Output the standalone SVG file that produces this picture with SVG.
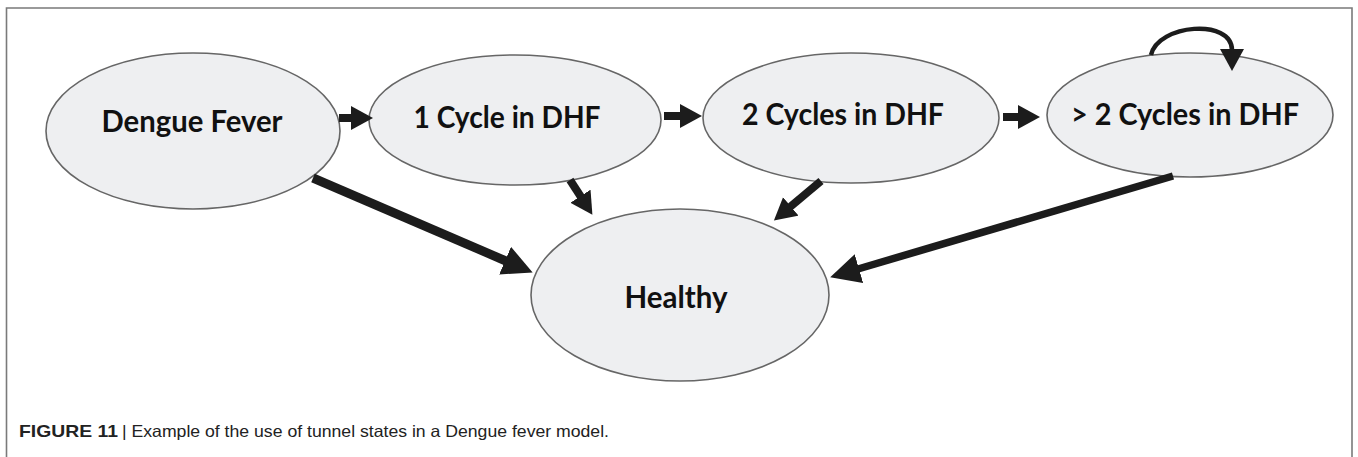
<svg xmlns="http://www.w3.org/2000/svg" width="1358" height="457" viewBox="0 0 1358 457">
<style>
.node ellipse{fill:#eeeff1;stroke:#666;stroke-width:1.6}
.lbl{font-family:Lato,"Open Sans","Liberation Sans",sans-serif;font-weight:700;font-size:30px;fill:#111;text-anchor:middle}
.edge{stroke:#1c1c1c;fill:none}
.cap{font-family:"Liberation Sans",Arial,sans-serif;font-size:16.5px;fill:#222}
</style>
<defs>
<marker id="hBig" markerUnits="userSpaceOnUse" markerWidth="32" markerHeight="32" refX="1" refY="15" orient="auto">
<path d="M0,0 L30,15 L0,30 Z" fill="#1c1c1c"/>
</marker>
<marker id="hSmall" markerUnits="userSpaceOnUse" markerWidth="26" markerHeight="26" refX="1" refY="12" orient="auto">
<path d="M0,0 L22,12 L0,24 Z" fill="#1c1c1c"/>
</marker>
</defs>
<rect x="0" y="0" width="1358" height="457" fill="#fff"/>
<path d="M6.5,460 L6.5,8 L1352,8 L1352,460" fill="none" stroke="#7a7a7a" stroke-width="1.6"/>

<g id="node-dengue" class="node">
<ellipse cx="193" cy="131" rx="147" ry="78"/>
<text class="lbl" x="192" y="132" textLength="181" lengthAdjust="spacingAndGlyphs">Dengue Fever</text>
</g>
<g id="node-1cycle" class="node">
<ellipse cx="515" cy="120" rx="146" ry="65"/>
<text class="lbl" x="507" y="128" textLength="187" lengthAdjust="spacingAndGlyphs">1 Cycle in DHF</text>
</g>
<g id="node-2cycles" class="node">
<ellipse cx="851" cy="118" rx="148" ry="65"/>
<text class="lbl" x="843" y="125" textLength="202" lengthAdjust="spacingAndGlyphs">2 Cycles in DHF</text>
</g>
<g id="node-gt2cycles" class="node">
<ellipse cx="1190" cy="115" rx="143" ry="62"/>
<text class="lbl" x="1185" y="125" textLength="228" lengthAdjust="spacingAndGlyphs">&gt; 2 Cycles in DHF</text>
</g>
<g id="node-healthy" class="node">
<ellipse cx="680" cy="295" rx="149" ry="86"/>
<text class="lbl" x="676" y="308" textLength="103" lengthAdjust="spacingAndGlyphs">Healthy</text>
</g>

<g id="connectors">
<line class="edge" x1="339" y1="118" x2="352" y2="118" stroke-width="8" marker-end="url(#hSmall)"/>
<line class="edge" x1="664" y1="116" x2="681" y2="116" stroke-width="8" marker-end="url(#hSmall)"/>
<line class="edge" x1="1003" y1="117" x2="1019" y2="117" stroke-width="8" marker-end="url(#hSmall)"/>
<path class="edge" d="M1151,55 C1158,24 1232,18 1232,50" stroke-width="4.5" marker-end="url(#hSmall)"/>
<line class="edge" x1="313" y1="178" x2="506" y2="261" stroke-width="9" marker-end="url(#hBig)"/>
<line class="edge" x1="570" y1="180" x2="581" y2="197" stroke-width="8" marker-end="url(#hSmall)"/>
<line class="edge" x1="821" y1="181" x2="790" y2="207" stroke-width="8" marker-end="url(#hSmall)"/>
<line class="edge" x1="1173" y1="176" x2="858" y2="269" stroke-width="7.5" marker-end="url(#hBig)"/>
</g>

<text class="cap" x="19" y="437" font-weight="700" textLength="99" lengthAdjust="spacingAndGlyphs">FIGURE 11</text>
<text class="cap" x="122" y="437" textLength="487" lengthAdjust="spacingAndGlyphs">| Example of the use of tunnel states in a Dengue fever model.</text>
</svg>
